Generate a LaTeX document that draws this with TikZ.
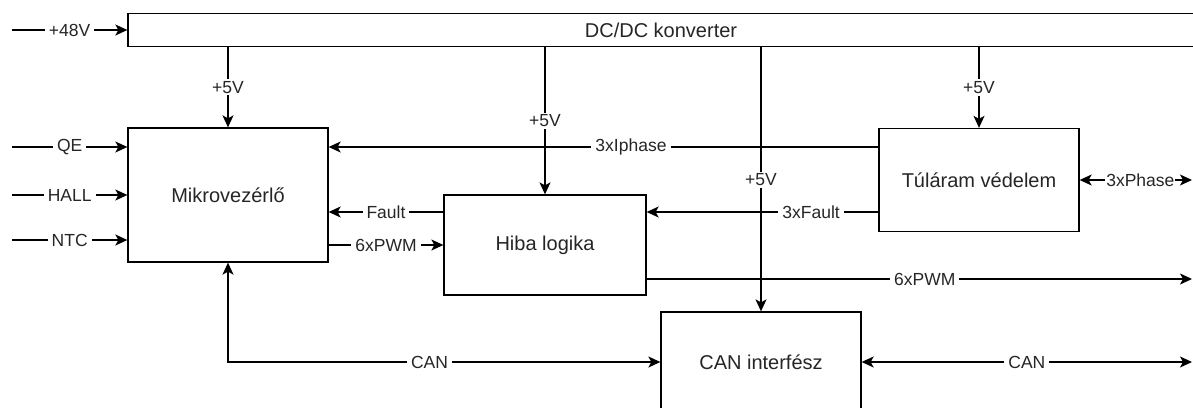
\documentclass[tikz,border=0pt]{standalone}
\usepackage{fontspec}
\setmainfont{Liberation Sans}
\usetikzlibrary{arrows.meta}
\tikzset{
  blk/.style={draw=black, line width=1.3pt, fill=white, font=\fontsize{20}{23}\selectfont, text=black!85},
  conn/.style={draw=black, line width=1.3pt},
  arr/.style={conn, -{Stealth[length=12pt,width=11pt,inset=3pt]}},
  darr/.style={conn, {Stealth[length=12pt,width=11pt,inset=3pt]}-{Stealth[length=12pt,width=11pt,inset=3pt]}},
  lbl/.style={fill=white, inner xsep=4pt, inner ysep=2pt, font=\fontsize{17.5}{20}\selectfont, text=black!85},
}
\begin{document}
\begin{tikzpicture}[x=1pt,y=-1pt]
\useasboundingbox (0,0) rectangle (1193,407);
% blocks
\node[blk, minimum width=1066pt, minimum height=33pt, inner sep=0pt] (dc) at (661,30) {DC/DC konverter};
\node[blk, minimum width=200pt, minimum height=134pt, inner sep=0pt] (mcu) at (228,195) {Mikrovezérlő};
\node[blk, minimum width=202pt, minimum height=100pt, inner sep=0pt] (hiba) at (545,245) {Hiba logika};
\node[blk, minimum width=200pt, minimum height=103pt, inner sep=0pt] (tul) at (979,180) {Túláram védelem};
\node[blk, minimum width=200pt, minimum height=100pt, inner sep=0pt] (can) at (761,362) {CAN interfész};
% helper coordinates
\coordinate (in48) at (12,30);
\coordinate (inQE) at (12,147);
\coordinate (inHALL) at (12,195);
\coordinate (inNTC) at (12,240);
\coordinate (yI) at (0,147);
\coordinate (yF) at (0,212);
\coordinate (yP) at (0,245);
\coordinate (yO) at (0,279);
\coordinate (outPWM) at (1192,279);
\coordinate (outPh) at (1192,180);
\coordinate (outCAN) at (1192,362);
% inputs
\draw[arr] (in48) -- node[lbl]{+48V} (dc.west |- in48);
\draw[arr] (inQE) -- node[lbl]{QE} (mcu.west |- inQE);
\draw[arr] (inHALL) -- node[lbl]{HALL} (mcu.west |- inHALL);
\draw[arr] (inNTC) -- node[lbl]{NTC} (mcu.west |- inNTC);
% supply lines
\draw[arr] (dc.south -| mcu.north) -- node[lbl]{+5V} (mcu.north);
\draw[arr] (dc.south -| hiba.north) -- node[lbl, pos=0.5]{+5V} (hiba.north);
\draw[arr] (dc.south -| tul.north) -- node[lbl]{+5V} (tul.north);
\draw[arr] (dc.south -| can.north) -- node[lbl, pos=0.503]{+5V} (can.north);
% signals
\draw[arr] (tul.west |- yI) -- node[lbl, pos=0.45]{3xIphase} (mcu.east |- yI);
\draw[arr] (hiba.west |- yF) -- node[lbl]{Fault} (mcu.east |- yF);
\draw[arr] (mcu.east |- yP) -- node[lbl]{6xPWM} (hiba.west |- yP);
\draw[arr] (tul.west |- yF) -- node[lbl, pos=0.29]{3xFault} (hiba.east |- yF);
\draw[arr] (hiba.east |- yO) -- node[lbl, pos=0.51]{6xPWM} (outPWM);
\draw[darr] (tul.east) -- node[lbl, inner xsep=1pt, pos=0.54]{3xPhase} (outPh);
\draw[darr] (mcu.south) |- node[lbl, pos=0.733]{CAN} (can.west);
\draw[darr] (can.east) -- node[lbl]{CAN} (outCAN);
\end{tikzpicture}
\end{document}
